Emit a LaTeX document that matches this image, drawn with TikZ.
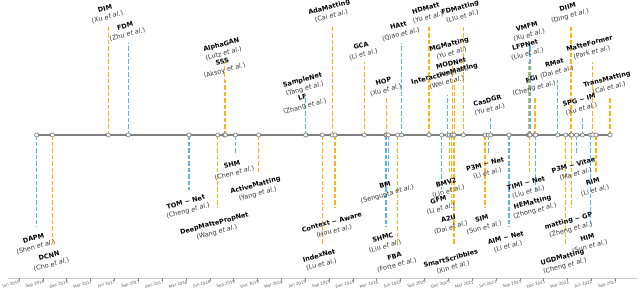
\documentclass[tikz,border=0pt]{standalone}
\usepackage{fontspec}
\setmainfont{DejaVu Sans}
\usetikzlibrary{calc}
\definecolor{orn}{RGB}{255,178,20}
\definecolor{blu}{RGB}{90,182,230}
\tikzset{
  stem/.style={line width=1.3pt, dash pattern=on 4.5pt off 2pt},
  tline/.style={line width=1.2pt, draw=black!50},
  mk/.style={circle, draw=black!55, fill=white, line width=0.6pt, minimum size=4.2pt, inner sep=0pt},
  lbl/.style={inner sep=0pt, rotate=15, anchor=center, align=center, font=\fontsize{6.5}{9}\selectfont},
  axisline/.style={line width=0.8pt, draw=black!20},
  tickmark/.style={line width=0.6pt, draw=black!45},
  ticklbl/.style={inner sep=0pt, rotate=15, anchor=center, text=black!65, font=\fontsize{4}{4.8}\selectfont}
}
\begin{document}
\begin{tikzpicture}[x=1pt,y=-1pt]
\useasboundingbox (0,0) rectangle (640,295);
\def\evts{
36.7/227/blu/DAPM/Shen,
52.3/245/orn/DCNN/Cho,
108.3/25/orn/DIM/Xu,
128.3/43/blu/FDM/Zhu,
189/190/blu/TOM − Net/Cheng,
217.7/208/orn/DeepMattePropNet/Wang,
224.5/62/orn/AlphaGAN/Lutz,
225.5/80/orn/SSS/Aksoy,
235.3/153/blu/SHM/Chen,
258.7/172/orn/ActiveMatting/Yang,
305.7/116/orn/LF/Zhang,
305.7/98/blu/SampleNet/Tang,
322.3/245/orn/IndexNet/Lu,
332.3/25/orn/AdaMatting/Cai,
335/208/orn/Context − Aware/Hou,
364.3/62/orn/GCA/Li,
386/227/blu/SHMC/Liu,
386.7/98/orn/HOP/Xu,
388.3/172/blu/BM/Sengupta,
397.7/245/orn/FBA/Forte,
401.7/43/blu/HAtt/Qiao,
429/25/orn/HDMatt/Yu,
441.7/190/blu/GFM/Li,
447.7/95/blu/InteractiveMatting/Wei,
449.3/172/orn/BMV2/Lin,
451.7/208/orn/A2U/Dai,
452.3/62/orn/MGMatting/Yu,
454.3/80/orn/MODNet/Ke,
454/245/orn/SmartScribbles/Xin,
463.3/25/orn/FDMatting/Liu,
485/208/orn/SIM/Sun,
488.3/153/blu/P3M − Net/Li,
490.7/117/blu/CasDGR/Yu,
509/227/blu/AIM − Net/Li,
528.3/62/orn/LFPNet/Liu,
529.3/172/orn/TIMI − Net/Liu,
530/43/blu/VMFM/Xu,
535/98/orn/FGI/Cheng,
535.7/190/blu/HEMatting/Zhong,
557.7/80/blu/RMat/Dai,
565.7/245/orn/UGDMatting/Cheng,
571/25/orn/DIIM/Ding,
571.7/208/orn/matting − GP/Zheng,
576.7/153/blu/P3M − Vitae/Ma,
582.3/117/blu/SPG − IM/Xu,
590.7/227/blu/HIM/Sun,
592.7/62/orn/MatteFormer/Park,
596/172/orn/RIM/Li,
610/98/orn/TransMatting/Cai}
% bottom date axis
\coordinate (axL) at (8,278);
\coordinate (axR) at (638,278);
\draw[axisline] (axL) -- (axR);
\foreach \t [count=\k from 0] in {Jun 2016,Sep 2016,Dec 2016,Mar 2017,Jun 2017,Sep 2017,Dec 2017,Mar 2018,Jun 2018,Sep 2018,Dec 2018,Mar 2019,Jun 2019,Sep 2019,Dec 2019,Mar 2020,Jun 2020,Sep 2020,Dec 2020,Mar 2021,Jun 2021,Sep 2021,Dec 2021,Mar 2022,Jun 2022,Sep 2022}{
  \pgfmathsetmacro\tx{19+23.85*\k}
  \coordinate (ta\k) at (\tx,278);
  \coordinate (tb\k) at (\tx,280.5);
  \draw[tickmark] (ta\k) -- (tb\k);
  \node[ticklbl] (tl\k) at ([xshift=-8.3pt,yshift=-3.4pt]\tx+0.5,281) {\t};
}
% coordinates
\foreach \x/\y/\c/\n/\a [count=\i] in \evts {
  \coordinate (m\i) at (\x,135);
  \coordinate (e\i) at (\x,\y);
}
% stems
\foreach \x/\y/\c/\n/\a [count=\i] in \evts {
  \draw[stem,draw=\c] (m\i) -- (e\i);
}
% main line
\coordinate (tlS) at (36.7,135);
\coordinate (tlE) at (610,135);
\draw[tline] (tlS) -- (tlE);
% markers
\foreach \x/\y/\c/\n/\a [count=\i] in \evts {
  \node[mk] (k\i) at (m\i) {};
}
% labels: rotated text whose rotated bounding box sits on the stem end
\foreach \x/\y/\c/\n/\a [count=\i] in \evts {
  \node[lbl] (p\i) at (0,0) {\phantom{\textbf{\n}}\\\phantom{(\a\ \textit{et al.})}};
  \path let \p1=(p\i.center), \p2=(p\i.south west) in
    \pgfextra{\pgfmathsetmacro\hh{(\y1)-(\y2)}\global\let\hhg\hh};
  \ifdim\y pt<135pt
    \node[lbl] (l\i) at ([xshift=-2pt,yshift=\hhg pt+0.5pt]e\i) {\textbf{\n}\\\textcolor{black!80}{(\a\ \textit{et al.})}};
  \else
    \node[lbl] (l\i) at ([xshift=-2pt,yshift=-\hhg pt-3.5pt]e\i) {\textbf{\n}\\\textcolor{black!80}{(\a\ \textit{et al.})}};
  \fi
}
\end{tikzpicture}
\end{document}
